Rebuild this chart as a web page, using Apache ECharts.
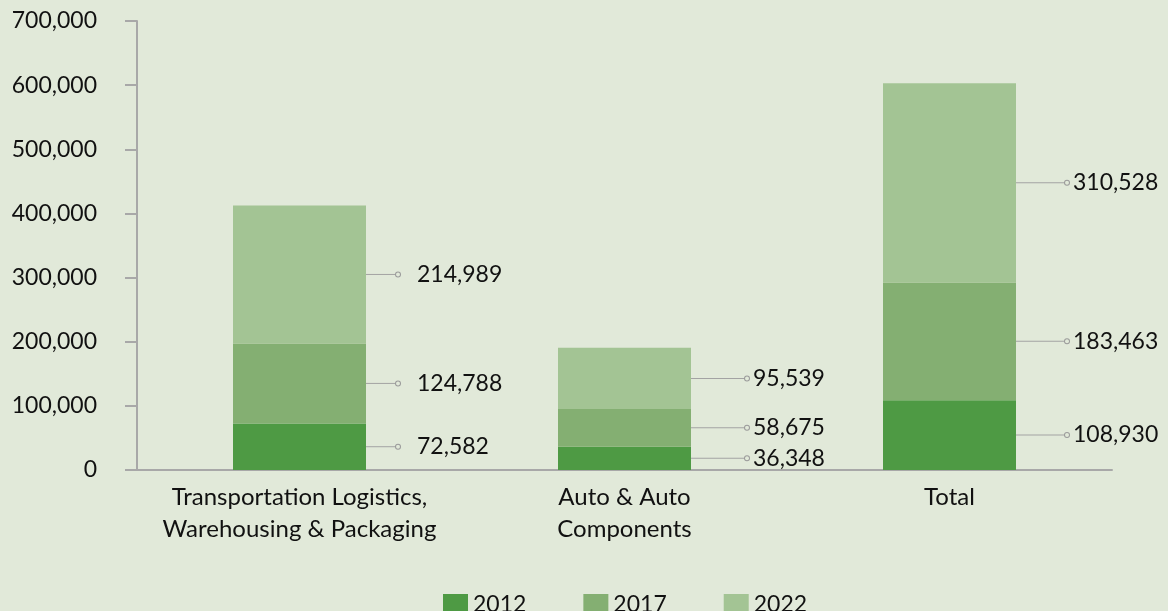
<!DOCTYPE html>
<html>
<head>
<meta charset="utf-8">
<script src="https://cdn.jsdelivr.net/npm/echarts@6/dist/echarts.min.js"></script>
<style>
  html, body { margin: 0; padding: 0; background: #e1e9d9; }
  #main { width: 1168px; height: 611px; }
</style>
</head>
<body>
<div id="main"></div>
<script>
var categories = ['Transportation Logistics,\nWarehousing & Packaging', 'Auto & Auto\nComponents', 'Total'];
var years = ['2012', '2017', '2022'];
var values2012 = [72582, 36348, 108930];
var values2017 = [124788, 58675, 183463];
var values2022 = [214989, 95539, 310528];
var yTicks = [0, 100000, 200000, 300000, 400000, 500000, 600000, 700000];

var colors = ['#4e9a44', '#84af72', '#a3c494'];
var bg = '#e1e9d9';
var font = 'Lato';

// leader line length and text gap per category
var lineLen = [30, 54, 49];
var textGap = [17, 4, 4];

var rich = {
  dot: { width: 4, height: 4, borderRadius: 3, borderWidth: 1, borderColor: '#9a9a9a', backgroundColor: bg, verticalAlign: 'middle' },
  v: { fontSize: 23, fontFamily: font, color: '#111', verticalAlign: 'middle' }
};
for (var i = 0; i < categories.length; i++) {
  rich['l' + i] = { width: lineLen[i], height: 1, backgroundColor: '#a3a3a3', verticalAlign: 'middle' };
  rich['g' + i] = { width: textGap[i], height: 1, verticalAlign: 'middle' };
}

function fmt(n) {
  return n.toLocaleString('en-US');
}

function makeSeries(name, data, color) {
  return {
    name: name,
    type: 'bar',
    stack: 'total',
    barWidth: 133,
    data: data,
    itemStyle: { color: color },
    label: {
      show: true,
      position: 'right',
      distance: 0,
      formatter: function (p) {
        return '{l' + p.dataIndex + '|}{dot|}{g' + p.dataIndex + '|}{v|' + fmt(p.value) + '}';
      },
      rich: rich
    }
  };
}

var chart = echarts.init(document.getElementById('main'));
chart.setOption({
  backgroundColor: bg,
  animation: false,
  textStyle: { fontFamily: font },
  grid: { left: 137, right: 56, top: 21, bottom: 141 },
  legend: {
    data: years,
    left: 438,
    top: 588,
    itemWidth: 25,
    itemHeight: 21,
    itemGap: 57,
    icon: 'rect',
    textStyle: { fontSize: 23, fontFamily: font, color: '#111' }
  },
  xAxis: {
    type: 'category',
    data: categories,
    axisLine: { lineStyle: { color: '#a8a8a8', width: 2 } },
    axisTick: { show: false },
    axisLabel: { interval: 0, fontSize: 24, fontFamily: font, color: '#111', lineHeight: 32, margin: 11 }
  },
  yAxis: {
    type: 'value',
    min: yTicks[0],
    max: yTicks[yTicks.length - 1],
    interval: yTicks[1] - yTicks[0],
    splitLine: { show: false },
    axisLine: { show: true, lineStyle: { color: '#a8a8a8', width: 2 } },
    axisTick: { show: true, length: 12, lineStyle: { color: '#a8a8a8', width: 2 } },
    axisLabel: { fontSize: 23, fontFamily: font, color: '#111', margin: 40, formatter: fmt }
  },
  series: [
    makeSeries(years[0], values2012, colors[0]),
    makeSeries(years[1], values2017, colors[1]),
    makeSeries(years[2], values2022, colors[2])
  ]
});
</script>
</body>
</html>
